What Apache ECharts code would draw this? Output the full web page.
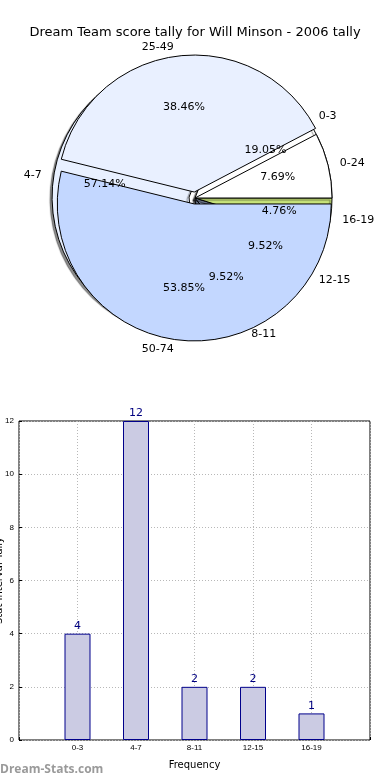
<!DOCTYPE html>
<html><head><meta charset="utf-8">
<script src="https://cdn.jsdelivr.net/npm/echarts@6/dist/echarts.min.js"></script>
<style>html,body{margin:0;padding:0;background:#fff}#c{width:390px;height:780px}</style>
</head><body><div id="c"></div>
<script>
const titleText = 'Dream Team score tally for Will Minson - 2006 tally';
const intervalCats = ['0-3', '4-7', '8-11', '12-15', '16-19'];
const intervalCounts = [4, 12, 2, 2, 1];
const intervalColors = ['#ffffff', '#e8f0ff', '#c2d6ff', '#c2d6ff', '#c8e47a'];
const intervalExploded = [false, true, false, false, false];
const bandCats = ['0-24', '25-49', '50-74'];
const bandCounts = [1, 5, 7];
const bandColors = ['#ffffff', '#e9f0ff', '#c3d7ff'];
const bandExploded = [false, true, true];
const yMin = 0, yMax = 12, yStep = 2;
const xAxisName = 'Frequency';
const yAxisName = 'Stat Interval Tally';
const watermark = 'Dream-Stats.com';

const R = 137;
const C = [195, 198];
const FONT = 'DejaVu Sans';

function pctFormatter(vals) {
  const total = vals.reduce((a, b) => a + b, 0);
  return p => (p.value / total * 100).toFixed(2) + '%';
}
function pieData(cats, vals, colors, exploded, transparent) {
  return cats.map((n, i) => ({
    name: n, value: vals[i], selected: exploded[i],
    itemStyle: transparent ? { color: 'rgba(0,0,0,0)', borderWidth: 0 } : { color: colors[i] }
  }));
}
const basePie = {
  type: 'pie', center: C, startAngle: 0, clockwise: false,
  selectedMode: 'multiple', selectedOffset: 6, avoidLabelOverlap: false,
  animation: false, silent: true, emphasis: { disabled: true },
  labelLine: { show: false, length: 9, length2: 0 }
};
function namePie(cats, vals, colors, exploded, shadow) {
  const st = { borderColor: '#000', borderWidth: 1 };
  if (shadow) Object.assign(st, { shadowBlur: 1, shadowColor: 'rgba(0,0,0,0.45)', shadowOffsetX: -2, shadowOffsetY: 2 });
  return Object.assign({}, basePie, {
    radius: [0, R],
    data: pieData(cats, vals, colors, exploded, false),
    itemStyle: st,
    select: { itemStyle: st },
    label: { show: true, position: 'outside', formatter: '{b}', color: '#000', fontSize: 11, fontFamily: FONT, distanceToLabelLine: 3 }
  });
}
function pctPie(cats, vals, exploded) {
  return Object.assign({}, basePie, {
    radius: [0, R * 1.2],
    data: pieData(cats, vals, null, exploded, true),
    itemStyle: { color: 'rgba(0,0,0,0)', borderWidth: 0 },
    select: { itemStyle: { color: 'rgba(0,0,0,0)', borderWidth: 0 } },
    label: { show: true, position: 'inside', formatter: pctFormatter(vals), color: '#000', fontSize: 11, fontFamily: FONT }
  });
}

const chart = echarts.init(document.getElementById('c'), null, { renderer: 'canvas' });
chart.setOption({
  animation: false,
  backgroundColor: '#fff',
  title: { text: titleText, left: 'center', top: 21, textStyle: { fontFamily: FONT, fontSize: 13, fontWeight: 'normal', color: '#000' } },
  graphic: [
    { type: 'text', left: 0, top: 764, style: { text: watermark, fill: '#9a9a9a', font: 'bold 12px "Open Sans"' } }
  ],
  grid: { left: 19, right: 20, top: 421, bottom: 40, show: true, borderColor: '#000', borderWidth: 1, backgroundColor: 'transparent', containLabel: false, outerBoundsMode: 'none' },
  xAxis: {
    type: 'category', data: [''].concat(intervalCats, ['']), boundaryGap: false,
    axisLine: { show: false },
    axisTick: { show: true, inside: true, length: 3, lineStyle: { color: '#000' } },
    axisLabel: { fontSize: 8, fontFamily: 'Liberation Sans', color: '#000', margin: 4, interval: 0 },
    splitLine: { show: true, lineStyle: { color: '#b8b8b8', type: [1, 2] } },
    name: xAxisName, nameLocation: 'middle', nameGap: 20, nameMoveOverlap: false,
    nameTextStyle: { fontFamily: FONT, fontSize: 10, color: '#000' }
  },
  yAxis: {
    type: 'value', min: yMin, max: yMax, interval: yStep,
    axisLine: { show: false },
    axisTick: { show: true, inside: true, length: 3, lineStyle: { color: '#000' } },
    axisLabel: { fontSize: 8, fontFamily: 'Liberation Sans', color: '#000', margin: 5 },
    splitLine: { show: true, lineStyle: { color: '#b8b8b8', type: [1, 2] } },
    name: yAxisName, nameLocation: 'middle', nameGap: 15, nameRotate: 90, nameMoveOverlap: false,
    nameTextStyle: { fontFamily: FONT, fontSize: 10, color: '#000' }
  },
  series: [
    namePie(intervalCats, intervalCounts, intervalColors, intervalExploded, true),
    namePie(bandCats, bandCounts, bandColors, bandExploded, false),
    pctPie(intervalCats, intervalCounts, intervalExploded),
    pctPie(bandCats, bandCounts, bandExploded),
    {
      type: 'bar', data: [null].concat(intervalCounts, [null]), barWidth: 26,
      itemStyle: { color: '#cbcbe3', borderColor: '#00008b', borderWidth: 1 },
      label: { show: true, position: 'top', distance: 2, color: '#000080', fontSize: 11, fontFamily: FONT },
      silent: true, animation: false
    }
  ]
});
</script></body></html>
